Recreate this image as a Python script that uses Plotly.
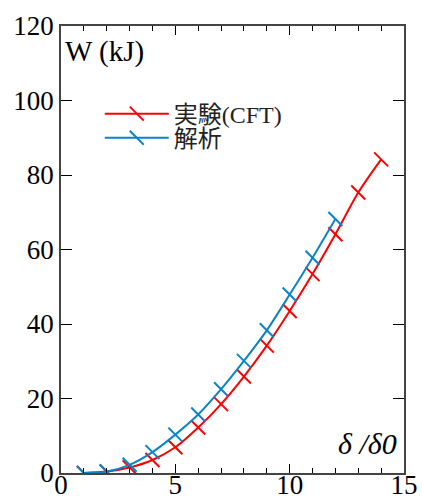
import plotly.graph_objects as go

# data
x_exp = [1, 2, 3, 4, 5, 6, 7, 8, 9, 10, 11, 12, 13, 14]
w_exp = [0.0, 0.4, 1.5, 3.5, 6.9, 12.2, 18.5, 25.9, 34.2, 43.5, 53.4, 64.1, 75.3, 84.2]
x_ana = [1, 2, 3, 4, 5, 6, 7, 8, 9, 10, 11, 12]
w_ana = [0.0, 0.4, 2.2, 5.6, 10.3, 15.7, 22.5, 30.1, 38.3, 47.9, 57.8, 68.2]
name_exp = "実験(CFT)"
name_ana = "解析"

RED = "#ff0000"
BLUE = "#0a84c6"
FONT = "'Liberation Serif', 'Noto Sans CJK JP', serif"

fig = go.Figure()
for xs, ys, nm, col, lg in [(x_exp, w_exp, name_exp, RED, "legend"),
                            (x_ana, w_ana, name_ana, BLUE, "legend2")]:
    fig.add_trace(go.Scatter(
        x=xs, y=ys, name=nm, mode="lines+markers", legend=lg, showlegend=True,
        line=dict(color=col, width=2, shape="spline", smoothing=0.8),
        marker=dict(symbol="line-nw", size=14, color=col,
                    line=dict(color=col, width=2)),
    ))

axis_common = dict(
    showgrid=False, zeroline=False, showline=True, linecolor="#444", linewidth=1.5,
    mirror="ticks", ticks="inside", tickcolor="#000", tickwidth=1.2, automargin=False,
    tickfont=dict(family=FONT, size=27, color="#000"),
)
fig.update_xaxes(range=[0, 15], tickvals=[0, 5, 10, 15], ticklen=9, ticklabelstandoff=-13,
                 minor=dict(dtick=1, ticks="inside", ticklen=5, tickcolor="#000", tickwidth=1.2),
                 **axis_common)
fig.update_yaxes(range=[0, 120], tickvals=[0, 20, 40, 60, 80, 100, 120], ticklen=11,
                 **axis_common)

fig.add_annotation(xref="paper", yref="paper", x=0.005, y=0.985, xanchor="left", yanchor="top",
                   text="W (kJ)", showarrow=False,
                   font=dict(family=FONT, size=29, color="#000"))
fig.add_annotation(xref="paper", yref="paper", x=0.985, y=0.025, xanchor="right", yanchor="bottom",
                   text="<i>δ /δ0</i>", showarrow=False,
                   font=dict(family=FONT, size=30, color="#000"))

leg = dict(xanchor="left", yanchor="middle", bgcolor="rgba(0,0,0,0)", itemwidth=64,
           font=dict(family=FONT, size=24, color="#222"))
fig.update_layout(
    width=422, height=501,
    margin=dict(l=61, r=18, t=26, b=28),
    plot_bgcolor="white", paper_bgcolor="white",
    font=dict(family=FONT, color="#000"),
    showlegend=True,
    legend=dict(x=0.113, y=0.803, **leg),
    legend2=dict(x=0.113, y=0.749, **leg),
)

fig.write_html("out.html", config={"displayModeBar": False},
               post_script="document.body.style.margin='0';")
